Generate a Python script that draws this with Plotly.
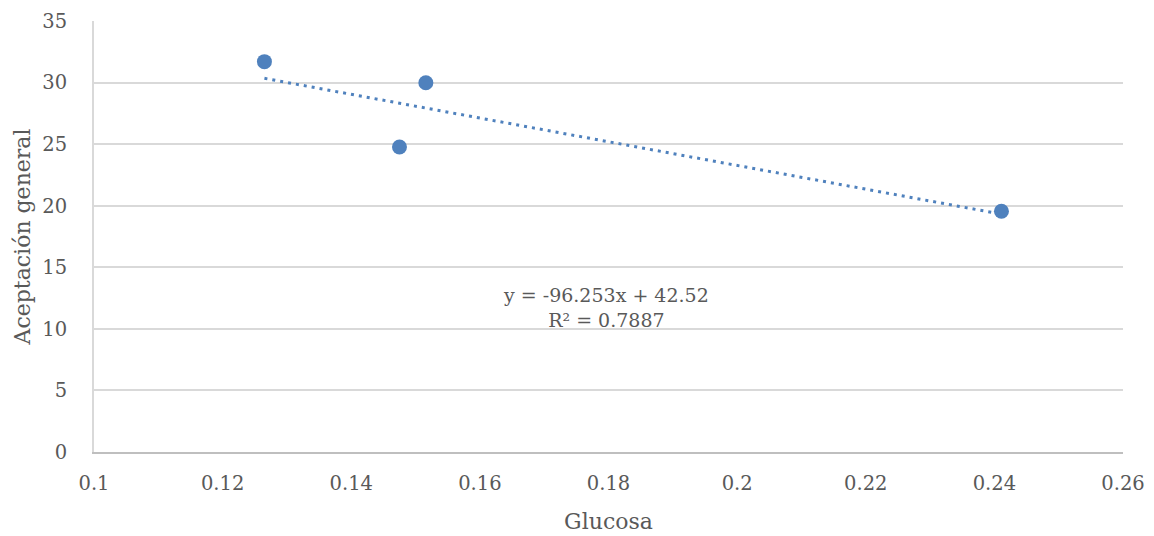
import numpy as np
import plotly.graph_objects as go

glucosa = [0.1265, 0.1475, 0.1516, 0.2411]
aceptacion = [31.70, 24.77, 29.99, 19.55]
slope = -96.253
intercept = 42.52
r2 = 0.7887
x_ticks = [0.1, 0.12, 0.14, 0.16, 0.18, 0.2, 0.22, 0.24, 0.26]
x_ticktext = ["0.1", "0.12", "0.14", "0.16", "0.18", "0.2", "0.22", "0.24", "0.26"]
y_ticks = [0, 5, 10, 15, 20, 25, 30, 35]

FONT = "'DejaVu Serif', serif"
TXT = "#595959"
BLUE = "#4F81BD"

tx = np.array([min(glucosa), max(glucosa)])
ty = slope * tx + intercept

fig = go.Figure()
fig.add_trace(go.Scatter(x=tx, y=ty, mode="lines",
                         line=dict(color=BLUE, width=3, dash="3px,5px"),
                         hoverinfo="skip", showlegend=False))
fig.add_trace(go.Scatter(x=glucosa, y=aceptacion, mode="markers",
                         marker=dict(color=BLUE, size=15, line=dict(width=0)),
                         showlegend=False))

fig.add_annotation(x=0.1796, y=11.75, xref="x", yref="y",
                   text=f"y = {slope}x + {intercept}<br>R² = {r2}",
                   showarrow=False, align="center",
                   font=dict(family=FONT, size=19, color=TXT))

fig.update_layout(
    width=1154, height=536,
    margin=dict(l=94, r=31, t=21, b=84, autoexpand=False),
    paper_bgcolor="white", plot_bgcolor="white",
    font=dict(family=FONT, size=19, color=TXT),
    xaxis=dict(range=[0.1, 0.26], tickvals=x_ticks, ticktext=x_ticktext,
               showgrid=False, zeroline=False, automargin=False,
               showline=True, linecolor="#BFBFBF", linewidth=2,
               ticks="outside", ticklen=13, tickcolor="rgba(0,0,0,0)",
               tickfont=dict(family=FONT, size=19.5, color=TXT),
               title=dict(text="Glucosa", font=dict(family=FONT, size=22, color=TXT), standoff=19)),
    yaxis=dict(range=[0, 35], tickvals=y_ticks,
               showgrid=True, gridcolor="#D9D9D9", gridwidth=2, zeroline=False, automargin=False,
               showline=True, linecolor="#D9D9D9", linewidth=2,
               ticks="outside", ticklen=21, tickcolor="rgba(0,0,0,0)",
               tickfont=dict(family=FONT, size=19.5, color=TXT),
               title=dict(text="Aceptación general", font=dict(family=FONT, size=22, color=TXT), standoff=6)),
)

fig.write_html("out.html")
